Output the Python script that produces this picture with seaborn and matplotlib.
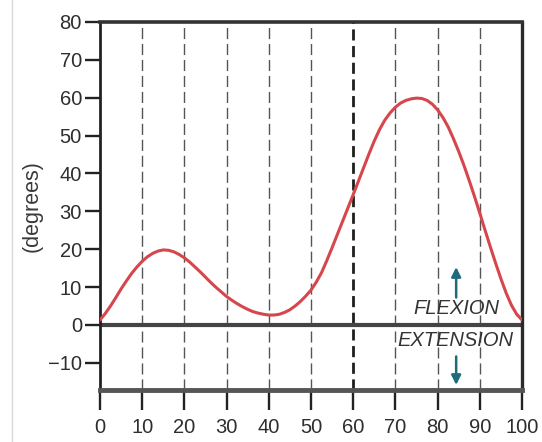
import matplotlib
matplotlib.use("Agg")
import matplotlib.pyplot as plt
from matplotlib.lines import Line2D
import pandas as pd
import seaborn as sns

# Knee angle over one gait cycle (% of cycle vs degrees)
gait_cycle = [0, 1.25, 2.5, 3.75, 5, 6.25, 7.5, 8.75, 10, 11.25, 12.5, 13.75, 15,
              16.25, 17.5, 18.75, 20, 21.25, 22.5, 23.75, 25, 26.25, 27.5, 28.75,
              30, 31.25, 32.5, 33.75, 35, 36.25, 37.5, 38.75, 40, 41.25, 42.5,
              43.75, 45, 46.25, 47.5, 48.75, 50, 51.25, 52.5, 53.75, 55, 56.25,
              57.5, 58.75, 60, 61.25, 62.5, 63.75, 65, 66.25, 67.5, 68.75, 70,
              71.25, 72.5, 73.75, 75, 76.25, 77.5, 78.75, 80, 81.25, 82.5, 83.75,
              85, 86.25, 87.5, 88.75, 90, 91.25, 92.5, 93.75, 95, 96.25, 97.5,
              98.75, 100]
knee_angle = [1.3, 3.0, 5.0, 7.2, 9.5, 11.6, 13.6, 15.3, 16.8, 18.0, 18.9, 19.5,
              19.8, 19.7, 19.3, 18.6, 17.7, 16.6, 15.3, 14.0, 12.6, 11.2, 9.9, 8.7,
              7.5, 6.5, 5.6, 4.8, 4.1, 3.5, 3.1, 2.8, 2.6, 2.6, 2.8, 3.3, 4.0, 5.0,
              6.2, 7.6, 9.2, 11.3, 13.8, 17.0, 20.4, 23.9, 27.4, 30.9, 34.4, 38.0,
              41.6, 45.2, 48.6, 51.6, 54.1, 56.0, 57.5, 58.6, 59.3, 59.7, 59.9,
              59.8, 59.3, 58.3, 56.8, 54.8, 52.3, 49.2, 45.8, 42.1, 38.1, 33.9,
              29.5, 25.0, 20.6, 16.3, 12.2, 8.4, 5.2, 2.8, 1.3]
x_ticks = [0, 10, 20, 30, 40, 50, 60, 70, 80, 90, 100]
y_ticks = [-10, 0, 10, 20, 30, 40, 50, 60, 70, 80]
grid_x = [10, 20, 30, 40, 50, 60, 70, 80, 90]
toe_off = 60

sns.set_style("white")
plt.rcParams['font.family'] = ['Liberation Sans', 'DejaVu Sans']

fig = plt.figure(figsize=(5.42, 4.42), dpi=100)
ax = fig.add_axes([100 / 542, 52 / 442, 422 / 542, 368 / 442])

# vertical dashed guides, the toe-off line drawn heavier
for gx in grid_x:
    if gx == toe_off:
        ax.axvline(gx, color='#1e1e1e', lw=2.0, ls=(0, (4, 2)), zorder=1)
    else:
        ax.axvline(gx, color='#555555', lw=1.0, ls=(0, (8, 3.5)), zorder=1)

ax.axhline(0, color='#444444', lw=3.0, zorder=2)

df = pd.DataFrame({'cycle': gait_cycle, 'angle': knee_angle})
sns.lineplot(data=df, x='cycle', y='angle', color='#d6464d', lw=2.2, ax=ax, zorder=3)

ax.set_xlim(0, 100)
ax.set_ylim(-17.2, 80)
ax.set_xticks(x_ticks)
ax.set_yticks(y_ticks)
ax.set_xlabel('')
ax.set_ylabel('(degrees)', fontsize=15.5, color='#3a3a3a')
ax.yaxis.set_label_coords(-0.135, 0.5)

ax.tick_params(axis='x', bottom=True, direction='out', length=14.5, width=1.7,
               color='#222222', pad=5.5, labelsize=14.5, labelcolor='#2e2e2e')
ax.tick_params(axis='y', left=True, direction='out', length=11, width=1.7,
               color='#222222', pad=2, labelsize=14.5, labelcolor='#2e2e2e')

for side, lw, col in [('top', 2.6, '#333333'), ('right', 2.4, '#2a2a2a'),
                      ('left', 2.0, '#222222'), ('bottom', 3.5, '#555555')]:
    ax.spines[side].set_visible(True)
    ax.spines[side].set_linewidth(lw)
    ax.spines[side].set_color(col)

# flexion / extension markers
arrow_col = '#1e6b7b'
ax.annotate('', xy=(84.4, 16.0), xytext=(84.4, 6.5),
            arrowprops=dict(arrowstyle='-|>', color=arrow_col, lw=1.8, mutation_scale=14))
ax.annotate('', xy=(84.4, -16.6), xytext=(84.4, -7.6),
            arrowprops=dict(arrowstyle='-|>', color=arrow_col, lw=1.8, mutation_scale=14))
ax.text(84.4, 4.3, 'FLEXION', ha='center', va='center', style='italic',
        fontsize=14.5, color='#333333', zorder=4)
ax.text(84.1, -4.0, 'EXTENSION', ha='center', va='center', style='italic',
        fontsize=14.5, color='#333333', zorder=4)

# page edge
fig.add_artist(Line2D([12 / 542, 12 / 542], [0, 1], color='#d8d8d8', lw=1,
                      transform=fig.transFigure))

fig.savefig('out.png', dpi=100)
